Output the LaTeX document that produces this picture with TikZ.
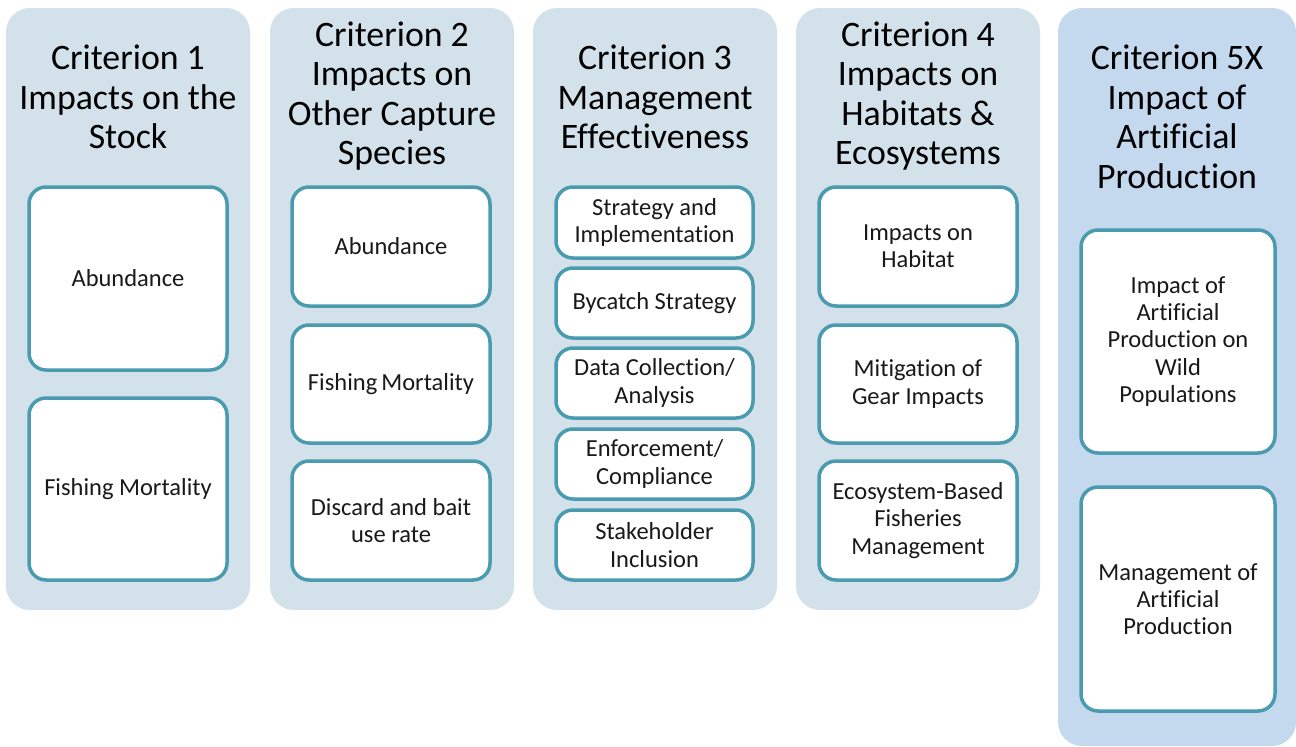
\documentclass[tikz,border=0pt]{standalone}
\usepackage{fontspec}
\setmainfont{Carlito}[Ligatures=NoCommon]
\definecolor{colbg}{RGB}{211,226,234}
\definecolor{colbgfive}{RGB}{197,217,238}
\definecolor{teal}{RGB}{74,155,176}
\definecolor{txt}{RGB}{25,25,25}
\begin{document}
\begin{tikzpicture}[x=1pt,y=-1pt,
  column/.style={fill=colbg,draw=none,rounded corners=24pt,inner sep=0pt},
  columnfive/.style={fill=colbgfive,draw=none,rounded corners=24pt,inner sep=0pt},
  title/.style={align=center,font=\fontsize{35.8}{39.5}\selectfont,text=black,inner sep=0pt},
  item/.style={draw=teal,line width=3.5pt,fill=white,rounded corners=17pt,align=center,
    font=\fontsize{24.5}{27.2}\selectfont,text=txt,inner sep=0pt}]
\useasboundingbox (0,0) rectangle (1296,747);
\fill[white] (0,0) rectangle (1296,747);
% columns
\node[column,minimum width=244pt,minimum height=602pt] (c1) at (128,309) {};
\node[column,minimum width=244pt,minimum height=602pt] (c2) at (392,309) {};
\node[column,minimum width=244pt,minimum height=602pt] (c3) at (655,309) {};
\node[column,minimum width=244pt,minimum height=602pt] (c4) at (918,309) {};
\node[columnfive,minimum width=238pt,minimum height=738pt] (c5) at (1177,377) {};
% titles
\node[title] (t1) at (128,97) {Criterion 1\\Impacts on the\\Stock};
\node[title] (t2) at (392,96) {Criterion 2\\Impacts on\\Other Capture\\Species};
\node[title] (t3) at (655,97) {Criterion 3\\Management\\Effectiveness};
\node[title] (t4) at (918,96) {Criterion 4\\Impacts on\\Habitats \&\\Ecosystems};
\node[title] (t5) at (1177,117) {Criterion 5X\\Impact of\\Artificial\\Production};
% column 1
\node[item,minimum width=198pt,minimum height=183pt] (a1) at (128,278.5) {Abundance};
\node[item,minimum width=198pt,minimum height=182pt] (a2) at (128,489) {Fishing Mortality};
% column 2
\node[item,minimum width=198pt,minimum height=119pt] (b1) at (391,246.5) {Abundance};
\node[item,minimum width=198pt,minimum height=118pt] (b2) at (391,384) {Fishing\,Mortality};
\node[item,minimum width=198pt,minimum height=119pt] (b3) at (391,520.5) {Discard and bait\\use rate};
% column 3
\node[item,minimum width=197pt,minimum height=71pt] (d1) at (654.5,222.5) {Strategy and\\Implementation};
\node[item,minimum width=197pt,minimum height=70pt] (d2) at (654.5,303) {Bycatch Strategy};
\node[item,minimum width=197pt,minimum height=70pt] (d3) at (654.5,383) {Data Collection/\\Analysis};
\node[item,minimum width=197pt,minimum height=70pt] (d4) at (654.5,464) {Enforcement/\\Compliance};
\node[item,minimum width=197pt,minimum height=70pt] (d5) at (654.5,545) {Stakeholder\\Inclusion};
% column 4
\node[item,minimum width=198pt,minimum height=119pt] (e1) at (918,246.5) {Impacts on\\Habitat};
\node[item,minimum width=198pt,minimum height=118pt] (e2) at (918,384) {Mitigation of\\Gear Impacts};
\node[item,minimum width=198pt,minimum height=119pt] (e3) at (918,520.5) {Ecosystem-Based\\Fisheries\\Management};
% column 5
\node[item,minimum width=194pt,minimum height=223pt] (f1) at (1178,341.5) {Impact of\\Artificial\\Production on\\Wild\\Populations};
\node[item,minimum width=194pt,minimum height=224pt] (f2) at (1178,599) {Management of\\Artificial\\Production};
\end{tikzpicture}
\end{document}
